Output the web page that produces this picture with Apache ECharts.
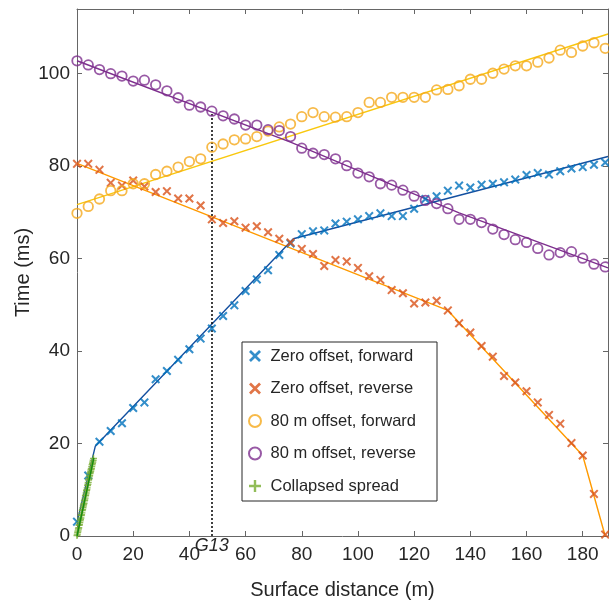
<!DOCTYPE html>
<html>
<head>
<meta charset="utf-8">
<script src="https://cdn.jsdelivr.net/npm/echarts@6/dist/echarts.min.js"></script>
<style>
  html, body { margin: 0; padding: 0; background: #fff; }
  #chart { width: 609px; height: 605px; }
</style>
</head>
<body>
<div id="chart"></div>
<script>
// geophone positions (m)
var offsets = [0, 4, 8, 12, 16, 20, 24, 28, 32, 36, 40, 44, 48, 52, 56, 60, 64, 68, 72, 76, 80, 84, 88, 92,
    96, 100, 104, 108, 112, 116, 120, 124, 128, 132, 136, 140, 144, 148, 152, 156, 160, 164, 168, 172, 176, 180, 184, 188];

// first break picks (ms)
var zeroFwd = [3.1, 13.1, 20.4, 22.7, 24.4, 27.7, 28.9, 33.9, 35.7, 38.1, 40.4, 42.7, 44.9, 47.6, 49.9, 53.0,
    55.5, 57.5, 60.8, 63.3, 65.3, 65.9, 66.1, 67.6, 68.0, 68.5, 69.2, 69.8, 69.2, 69.2, 70.8, 72.9,
    73.5, 74.7, 75.8, 75.4, 76.0, 76.2, 76.5, 77.1, 78.1, 78.5, 78.2, 78.9, 79.5, 79.8, 80.3, 80.8];
var zeroRev = [80.5, 80.5, 79.2, 76.4, 75.8, 76.9, 75.6, 74.4, 74.6, 73.0, 73.0, 71.5, 68.5, 67.7, 68.1, 66.7,
    67.0, 65.7, 64.3, 63.5, 62.1, 61.0, 58.4, 59.7, 59.4, 58.0, 56.2, 55.4, 53.2, 52.5, 50.3, 50.5,
    50.9, 48.8, 46.0, 44.0, 41.1, 38.8, 34.6, 33.2, 31.3, 28.9, 26.2, 24.3, 20.1, 17.4, 9.1, 0.3];
var far80Fwd = [69.8, 71.3, 72.9, 74.7, 74.7, 76.2, 76.2, 78.2, 78.9, 79.8, 81.0, 81.6, 84.1, 84.8, 85.7, 85.9,
    86.4, 87.6, 88.5, 89.1, 90.7, 91.6, 90.7, 90.6, 90.7, 91.6, 93.8, 93.8, 94.9, 94.9, 94.9, 94.9,
    96.5, 96.6, 97.4, 98.8, 98.8, 100.1, 101.0, 101.7, 101.7, 102.5, 103.4, 105.1, 104.6, 106.0, 106.7, 105.5];
var far80Rev = [102.8, 101.9, 100.9, 100.0, 99.5, 98.4, 98.6, 97.6, 96.3, 94.8, 93.2, 92.8, 91.9, 90.9, 90.2, 88.9,
    88.9, 87.9, 87.7, 86.4, 83.9, 82.8, 82.5, 81.6, 80.1, 78.5, 77.7, 76.2, 75.9, 74.8, 73.5, 72.6,
    71.9, 70.8, 68.5, 68.5, 67.8, 66.4, 65.2, 64.1, 63.5, 62.2, 60.8, 61.3, 61.5, 60.1, 58.8, 58.2];

// collapsed spread (0.125 m spacing)
var collapsedX = [0, 0.125, 0.25, 0.375, 0.5, 0.625, 0.75, 0.875, 1, 1.125, 1.25, 1.375, 1.5, 1.625, 1.75, 1.875,
    2, 2.125, 2.25, 2.375, 2.5, 2.625, 2.75, 2.875, 3, 3.125, 3.25, 3.375, 3.5, 3.625, 3.75, 3.875,
    4, 4.125, 4.25, 4.375, 4.5, 4.625, 4.75, 4.875, 5, 5.125, 5.25, 5.375, 5.5, 5.625, 5.75, 5.875];
var collapsedY = [0.1, 0.4, 0.8, 1.1, 1.5, 1.8, 2.3, 2.5, 2.9, 3.3, 3.6, 3.9, 4.4, 4.6, 5.0, 5.5,
    5.7, 6.1, 6.5, 6.8, 7.1, 7.6, 7.8, 8.2, 8.7, 8.9, 9.3, 9.8, 10.0, 10.4, 10.9, 11.2,
    11.6, 12.1, 12.4, 12.8, 13.1, 13.5, 13.7, 14.0, 14.4, 14.6, 15.0, 15.4, 15.7, 16.0, 16.4, 16.8];

// fitted travel-time branches [x, t]
var zeroFwdFit = [[0, 2.9], [6.5, 19.4], [77, 64.3], [189, 82.1]];
var zeroRevFit = [[0, 80.6], [132, 48.8], [180, 17.4], [188, 0]];
var far80FwdFit = [[0, 71.7], [189, 108.6]];
var far80RevFit = [[0, 102.8], [76, 85.2], [136, 69.9], [189, 58.0]];
var collapsedFit = [[0, 0], [6.0, 16.9]];

var g13 = 48;

var crossPath = 'path://M1.6,0L5,3.4L8.4,0L10,1.6L6.6,5L10,8.4L8.4,10L5,6.6L1.6,10L0,8.4L3.4,5L0,1.6Z';
var plusPath = 'path://M4,0H6V4H10V6H6V10H4V6H0V4H4Z';
var font = 'Liberation Sans, Arial, Helvetica, sans-serif';
var textCol = '#262626';
var axisCol = '#666';

function pairs(xs, ys) {
    return xs.map(function (x, i) { return [x, ys[i]]; });
}

var chart = echarts.init(document.getElementById('chart'));

function valueAxis(pos, max, showLabels, margin, extra) {
    var ax = {
        type: 'value',
        position: pos,
        min: 0,
        max: max,
        interval: 20,
        axisLine: { show: true, onZero: false, lineStyle: { color: axisCol, width: 1 } },
        axisTick: { show: true, inside: true, length: 5, lineStyle: { color: axisCol } },
        splitLine: { show: false },
        axisLabel: {
            show: showLabels, fontSize: 19, color: textCol, fontFamily: font,
            showMaxLabel: false, margin: margin
        }
    };
    for (var k in extra) ax[k] = extra[k];
    return ax;
}

var option = {
    backgroundColor: '#fff',
    animation: false,
    textStyle: { fontFamily: font },
    grid: { left: 77, right: 1, top: 9, bottom: 68 },
    xAxis: [
        valueAxis('bottom', 189, true, 9, {
            name: 'Surface distance (m)', nameLocation: 'middle', nameGap: 44,
            nameMoveOverlap: false,
            nameTextStyle: { fontSize: 20, color: textCol, fontFamily: font }
        }),
        valueAxis('top', 189, false, 8, {})
    ],
    yAxis: [
        valueAxis('left', 114, true, 7, {
            name: 'Time (ms)', nameLocation: 'middle', nameGap: 44,
            nameMoveOverlap: false,
            nameTextStyle: { fontSize: 20, color: textCol, fontFamily: font }
        }),
        valueAxis('right', 114, false, 8, {})
    ],
    legend: {
        orient: 'vertical',
        left: 242,
        top: 342,
        itemWidth: 21,
        itemHeight: 12,
        itemGap: 14.5,
        padding: [5, 21, 6, 6],
        borderColor: textCol,
        borderWidth: 1,
        backgroundColor: '#fff',
        textStyle: { fontSize: 16.5, color: textCol, lineHeight: 18, fontFamily: font },
        data: ['Zero offset, forward', 'Zero offset, reverse', '80 m offset, forward', '80 m offset, reverse', 'Collapsed spread']
    },
    series: [
        { type: 'line', data: far80FwdFit, showSymbol: false, symbol: 'none', silent: true,
          lineStyle: { color: '#f9c80e', width: 1.4 }, z: 2 },
        { type: 'line', data: far80RevFit, showSymbol: false, symbol: 'none', silent: true,
          lineStyle: { color: '#7e2f8e', width: 1.4 }, z: 2 },
        { type: 'line', data: zeroRevFit, showSymbol: false, symbol: 'none', silent: true,
          lineStyle: { color: '#ff9a00', width: 1.4 }, z: 2 },
        { type: 'line', data: zeroFwdFit, showSymbol: false, symbol: 'none', silent: true,
          lineStyle: { color: '#1450a0', width: 1.4 }, z: 2 },
        {
            name: 'G13', type: 'line', data: [], silent: true,
            markLine: {
                silent: true, symbol: 'none',
                lineStyle: { color: '#111', width: 1.6, type: [2, 2] },
                label: {
                    show: true, position: 'start', formatter: 'G13', distance: 1,
                    fontSize: 18, fontStyle: 'italic', color: textCol, fontFamily: font
                },
                data: [[{ coord: [g13, 0] }, { coord: [g13, 91.7] }]]
            },
            z: 3
        },
        {
            name: 'Zero offset, forward', type: 'scatter', data: pairs(offsets, zeroFwd),
            symbol: crossPath, symbolSize: 9, itemStyle: { color: '#0072bd' }, z: 5
        },
        {
            name: 'Zero offset, reverse', type: 'scatter', data: pairs(offsets, zeroRev),
            symbol: crossPath, symbolSize: 9, itemStyle: { color: '#d95319' }, z: 5
        },
        {
            name: '80 m offset, forward', type: 'scatter', data: pairs(offsets, far80Fwd),
            symbol: 'circle', symbolSize: 9.5,
            itemStyle: { color: 'rgba(255,255,255,0)', borderColor: '#f5a91c', borderWidth: 1.8 }, z: 5
        },
        {
            name: '80 m offset, reverse', type: 'scatter', data: pairs(offsets, far80Rev),
            symbol: 'circle', symbolSize: 9.5,
            itemStyle: { color: 'rgba(255,255,255,0)', borderColor: '#7e2f8e', borderWidth: 1.8 }, z: 5
        },
        { type: 'line', data: collapsedFit, showSymbol: false, symbol: 'none', silent: true,
          lineStyle: { color: '#138a13', width: 1.4 }, z: 6 },
        {
            name: 'Collapsed spread', type: 'scatter', data: pairs(collapsedX, collapsedY),
            symbol: plusPath, symbolSize: 7, itemStyle: { color: '#77ac30' }, z: 5
        }
    ]
};

chart.setOption(option);
</script>
</body>
</html>
